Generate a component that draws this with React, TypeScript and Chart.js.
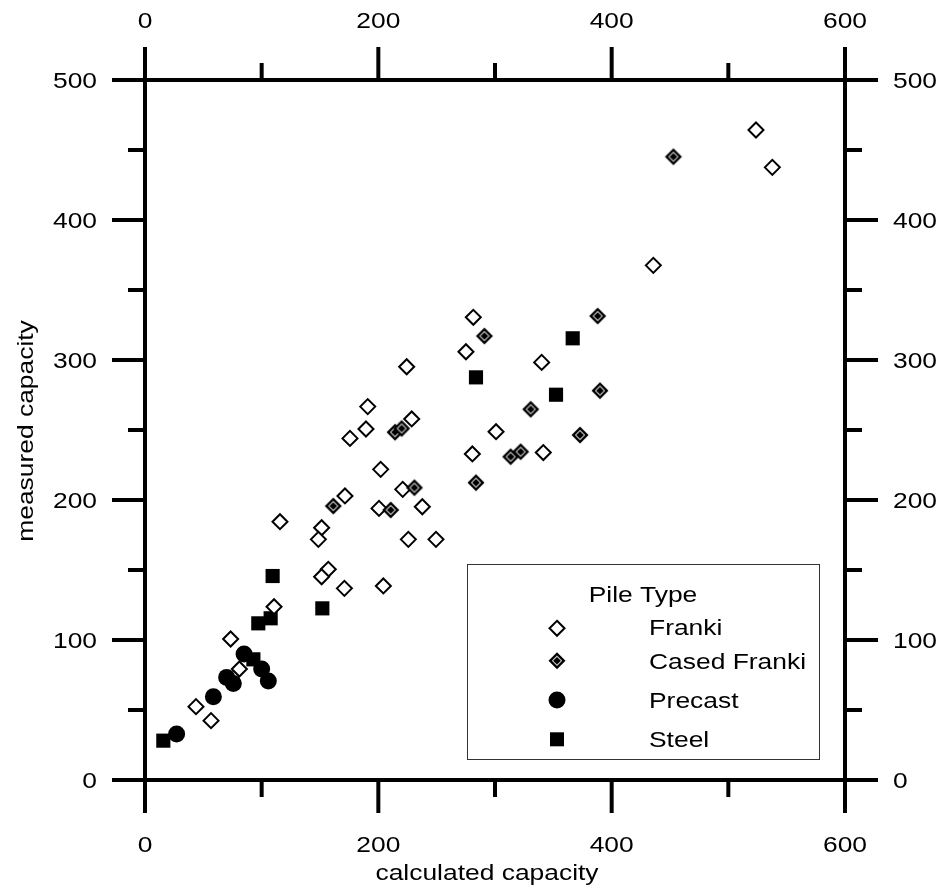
import React, { useEffect, useRef } from 'react';
import { Chart, registerables } from 'chart.js';

Chart.register(...registerables);

// ---------- data (calculated capacity, measured capacity) ----------
const franki: [number, number][] = [
  [523.7, 464.3], [537.7, 437.6], [435.7, 367.6], [281.4, 330.5], [275.1, 305.9],
  [340.0, 298.3], [224.3, 295.2], [190.9, 266.7], [228.6, 257.9], [189.4, 250.7],
  [175.7, 244.0], [300.9, 248.8], [280.6, 232.9], [341.4, 233.9], [202.0, 221.9],
  [220.9, 207.6], [171.4, 202.9], [200.6, 194.0], [237.7, 195.2], [151.4, 180.2],
  [148.6, 171.9], [225.7, 171.9], [249.4, 171.9], [115.7, 184.5], [157.1, 150.5],
  [151.4, 145.2], [170.9, 136.9], [204.3, 138.6], [110.6, 123.8], [73.4, 100.7],
  [80.9, 79.3], [43.7, 52.4], [56.6, 42.4],
];
const casedFranki: [number, number][] = [
  [452.9, 445.2], [388.0, 331.4], [290.9, 317.1], [390.0, 278.1], [330.6, 264.8],
  [214.3, 248.4], [220.0, 251.1], [372.9, 246.4], [313.4, 230.9], [322.0, 234.5],
  [283.7, 212.4], [230.9, 208.8], [161.4, 195.7], [210.6, 192.9],
];
const precast: [number, number][] = [
  [84.9, 90.0], [100.0, 79.3], [105.7, 70.7], [70.0, 73.3], [75.7, 69.0],
  [58.6, 59.5], [27.1, 32.9],
];
const steel: [number, number][] = [
  [366.6, 315.5], [283.7, 287.6], [352.3, 275.2], [109.4, 145.7], [152.0, 122.6],
  [107.7, 115.5], [97.1, 111.9], [92.9, 86.2], [15.7, 28.1],
];

const seriesNames = ['Franki', 'Cased Franki', 'Precast', 'Steel'];
const legendTitle = 'Pile Type';
const xTitle = 'calculated capacity';
const yTitle = 'measured capacity';
const xMajorTicks = [0, 200, 400, 600];
const xMinorTicks = [100, 300, 500];
const yMajorTicks = [0, 100, 200, 300, 400, 500];
const yMinorTicks = [50, 150, 250, 350, 450];

// ---------- drawing helpers ----------
const FONT = '22px "Liberation Sans", Arial, Helvetica, sans-serif';
const SX = 1.2;

function txt(ctx: CanvasRenderingContext2D, s: string, x: number, y: number, align: CanvasTextAlign, rot = 0) {
  ctx.save();
  ctx.translate(x, y);
  if (rot) ctx.rotate(rot);
  ctx.scale(SX, 1);
  ctx.font = FONT;
  ctx.fillStyle = '#000';
  ctx.textAlign = align;
  ctx.textBaseline = 'alphabetic';
  ctx.fillText(s, 0, 0);
  ctx.restore();
}

function diamondPath(ctx: CanvasRenderingContext2D, cx: number, cy: number, r: number) {
  ctx.beginPath();
  ctx.moveTo(cx, cy - r);
  ctx.lineTo(cx + r, cy);
  ctx.lineTo(cx, cy + r);
  ctx.lineTo(cx - r, cy);
  ctx.closePath();
}

function drawCased(ctx: CanvasRenderingContext2D, cx: number, cy: number) {
  diamondPath(ctx, cx, cy, 8.5);
  ctx.fillStyle = '#000';
  ctx.fill();
  diamondPath(ctx, cx, cy, 5.2);
  ctx.fillStyle = '#d0d0d0';
  ctx.fill();
  diamondPath(ctx, cx, cy, 3.8);
  ctx.fillStyle = '#000';
  ctx.fill();
}

function makeCasedImage(): HTMLCanvasElement {
  const c = document.createElement('canvas');
  c.width = 20;
  c.height = 20;
  const g = c.getContext('2d')!;
  drawCased(g, 10, 10);
  return c;
}

const axesPlugin = {
  id: 'customAxes',
  afterDraw(chart: any) {
    const { ctx, chartArea: a, scales } = chart;
    const xs = scales.x;
    const ys = scales.y;
    ctx.save();
    ctx.strokeStyle = '#000';
    ctx.lineWidth = 4;
    ctx.lineCap = 'butt';
    ctx.strokeRect(a.left, a.top, a.right - a.left, a.bottom - a.top);
    const seg = (x1: number, y1: number, x2: number, y2: number) => {
      ctx.beginPath();
      ctx.moveTo(x1, y1);
      ctx.lineTo(x2, y2);
      ctx.stroke();
    };
    const MAJ = 33;
    const MIN = 17;
    xMajorTicks.forEach((v) => {
      const p = xs.getPixelForValue(v);
      seg(p, a.bottom, p, a.bottom + MAJ);
      seg(p, a.top, p, a.top - MAJ);
      txt(ctx, String(v), p, a.bottom + 72, 'center');
      txt(ctx, String(v), p, a.top - 52, 'center');
    });
    xMinorTicks.forEach((v) => {
      const p = xs.getPixelForValue(v);
      seg(p, a.bottom, p, a.bottom + MIN);
      seg(p, a.top, p, a.top - MIN);
    });
    yMajorTicks.forEach((v) => {
      const p = ys.getPixelForValue(v);
      seg(a.left, p, a.left - MAJ, p);
      seg(a.right, p, a.right + MAJ, p);
      txt(ctx, String(v), a.left - 48, p + 8, 'right');
      txt(ctx, String(v), a.right + 48, p + 8, 'left');
    });
    yMinorTicks.forEach((v) => {
      const p = ys.getPixelForValue(v);
      seg(a.left, p, a.left - MIN, p);
      seg(a.right, p, a.right + MIN, p);
    });
    // axis titles
    txt(ctx, xTitle, (a.left + a.right) / 2 - 8, a.bottom + 100, 'center');
    txt(ctx, yTitle, 33, (a.top + a.bottom) / 2 + 1, 'center', -Math.PI / 2);

    // legend box
    const bx = 467, by = 564, bw = 352, bh = 195;
    ctx.fillStyle = '#fff';
    ctx.fillRect(bx, by, bw, bh);
    ctx.lineWidth = 1;
    ctx.strokeStyle = '#333';
    ctx.strokeRect(bx + 0.5, by + 0.5, bw, bh);
    txt(ctx, legendTitle, bx + bw / 2, by + 37.5, 'center');
    const mx = bx + 90;
    const tx = bx + 182;
    const rowsY = [by + 64.3, by + 96.7, by + 136, by + 175.3];
    const baseY = [by + 71, by + 104.5, by + 144.3, by + 182.7];
    // Franki
    diamondPath(ctx, mx, rowsY[0], 7.5);
    ctx.fillStyle = '#fff';
    ctx.fill();
    ctx.lineWidth = 2;
    ctx.strokeStyle = '#000';
    ctx.stroke();
    // Cased Franki
    drawCased(ctx, mx, rowsY[1]);
    // Precast
    ctx.beginPath();
    ctx.arc(mx, rowsY[2], 8.5, 0, Math.PI * 2);
    ctx.fillStyle = '#000';
    ctx.fill();
    // Steel
    ctx.fillRect(mx - 7, rowsY[3] - 7, 14, 14);
    seriesNames.forEach((n, i) => txt(ctx, n, tx, baseY[i], 'left'));
    ctx.restore();
  },
};

export default function App() {
  const ref = useRef<HTMLCanvasElement | null>(null);
  useEffect(() => {
    if (!ref.current) return;
    const casedImg = makeCasedImage();
    const toPts = (arr: [number, number][]) => arr.map(([x, y]) => ({ x, y }));
    const chart = new Chart(ref.current, {
      type: 'scatter',
      data: {
        datasets: [
          {
            label: seriesNames[0],
            data: toPts(franki),
            pointStyle: 'rectRot',
            pointRadius: 7.5,
            pointBorderWidth: 2,
            pointBackgroundColor: '#fff',
            pointBorderColor: '#000',
            order: 1,
          },
          {
            label: seriesNames[1],
            data: toPts(casedFranki),
            pointStyle: casedImg as any,
            pointRadius: 9,
            order: 0,
          },
          {
            label: seriesNames[2],
            data: toPts(precast),
            pointStyle: 'circle',
            pointRadius: 8.5,
            pointBorderWidth: 0,
            pointBackgroundColor: '#000',
            pointBorderColor: '#000',
            order: 2,
          },
          {
            label: seriesNames[3],
            data: toPts(steel),
            pointStyle: 'rect',
            pointRadius: 10,
            pointBorderWidth: 0,
            pointBackgroundColor: '#000',
            pointBorderColor: '#000',
            order: 3,
          },
        ],
      },
      options: {
        animation: false,
        responsive: false,
        events: [],
        layout: { padding: { left: 145, top: 80, right: 97, bottom: 108 } },
        scales: {
          x: { type: 'linear', min: 0, max: 600, display: false },
          y: { type: 'linear', min: 0, max: 500, display: false },
        },
        plugins: {
          legend: { display: false },
          tooltip: { enabled: false },
        },
      },
      plugins: [axesPlugin],
    });
    return () => chart.destroy();
  }, []);
  return (
    <canvas
      ref={ref}
      width={942}
      height={888}
      style={{ position: 'fixed', left: 0, top: 0, width: 942, height: 888, display: 'block', background: '#fff' }}
    />
  );
}
